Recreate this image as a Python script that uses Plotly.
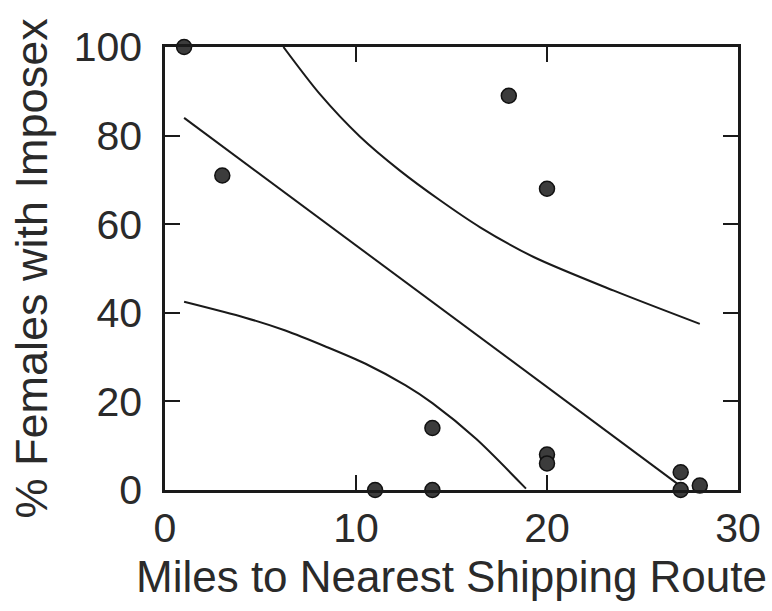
import plotly.graph_objects as go

# Observed data points
miles = [1, 3, 18, 20, 14, 11, 14, 20, 20, 27, 28, 27]
pct_imposex = [100, 71, 89, 68, 14, 0, 0, 8, 6, 4, 1, 0]

# Regression line
fit_x = [1, 26.8]
fit_y = [84, 1.5]

# Upper confidence band
upper_x = [6.2, 8.1, 10.2, 12.3, 14.4, 16.5, 19.3, 23.5, 28.0]
upper_y = [100, 89.4, 79.8, 72.1, 65.4, 59.3, 52.6, 45.0, 37.5]

# Lower confidence band
lower_x = [1.0, 4.2, 6.3, 8.4, 10.5, 12.6, 14.0, 16.3, 18.9]
lower_y = [42.5, 38.9, 36.0, 32.4, 28.5, 23.6, 19.6, 11.5, 0.3]

x_ticks = [0, 10, 20, 30]
y_ticks = [0, 20, 40, 60, 80, 100]

FONT = "Liberation Sans, Arial, sans-serif"
INK = "#1a1a1a"
TEXT = "#2a2a2a"

fig = go.Figure()
line_style = dict(color=INK, width=2)
fig.add_trace(go.Scatter(x=upper_x, y=upper_y, mode="lines", line=dict(shape="spline", smoothing=0.8, **line_style), hoverinfo="skip"))
fig.add_trace(go.Scatter(x=lower_x, y=lower_y, mode="lines", line=dict(shape="spline", smoothing=0.8, **line_style), hoverinfo="skip"))
fig.add_trace(go.Scatter(x=fit_x, y=fit_y, mode="lines", line=line_style, hoverinfo="skip"))
fig.add_trace(go.Scatter(
    x=miles, y=pct_imposex, mode="markers", cliponaxis=False,
    marker=dict(size=15, color="#3c3c3c", line=dict(color="#111111", width=1.5)),
))

axis_common = dict(
    showgrid=False, zeroline=False, showline=True, linecolor=INK, linewidth=2.5,
    mirror="ticks", ticks="inside", ticklen=15, tickwidth=2, tickcolor=INK,
    tickfont=dict(family=FONT, size=41, color=TEXT),
)
fig.update_xaxes(range=[0, 30], tickvals=x_ticks, ticktext=[str(v) for v in x_ticks],
                 ticklabelstandoff=0, **axis_common)
fig.update_yaxes(range=[0, 100], tickvals=y_ticks, ticktext=[str(v) for v in y_ticks],
                 ticklabelstandoff=12, **axis_common)

fig.add_annotation(text="Miles to Nearest Shipping Route", xref="paper", yref="paper",
                   x=0.5, y=0, xanchor="center", yanchor="middle", yshift=-86,
                   showarrow=False, font=dict(family=FONT, size=44, color=TEXT))
fig.add_annotation(text="% Females with Imposex", xref="paper", yref="paper",
                   x=0, y=0.5, xanchor="center", yanchor="middle", xshift=-134,
                   textangle=-90, showarrow=False,
                   font=dict(family=FONT, size=45, color=TEXT))

fig.update_layout(
    width=772, height=611, showlegend=False,
    margin=dict(l=165, r=34, t=47, b=121),
    paper_bgcolor="white", plot_bgcolor="white",
)
fig.write_html("out.html")
